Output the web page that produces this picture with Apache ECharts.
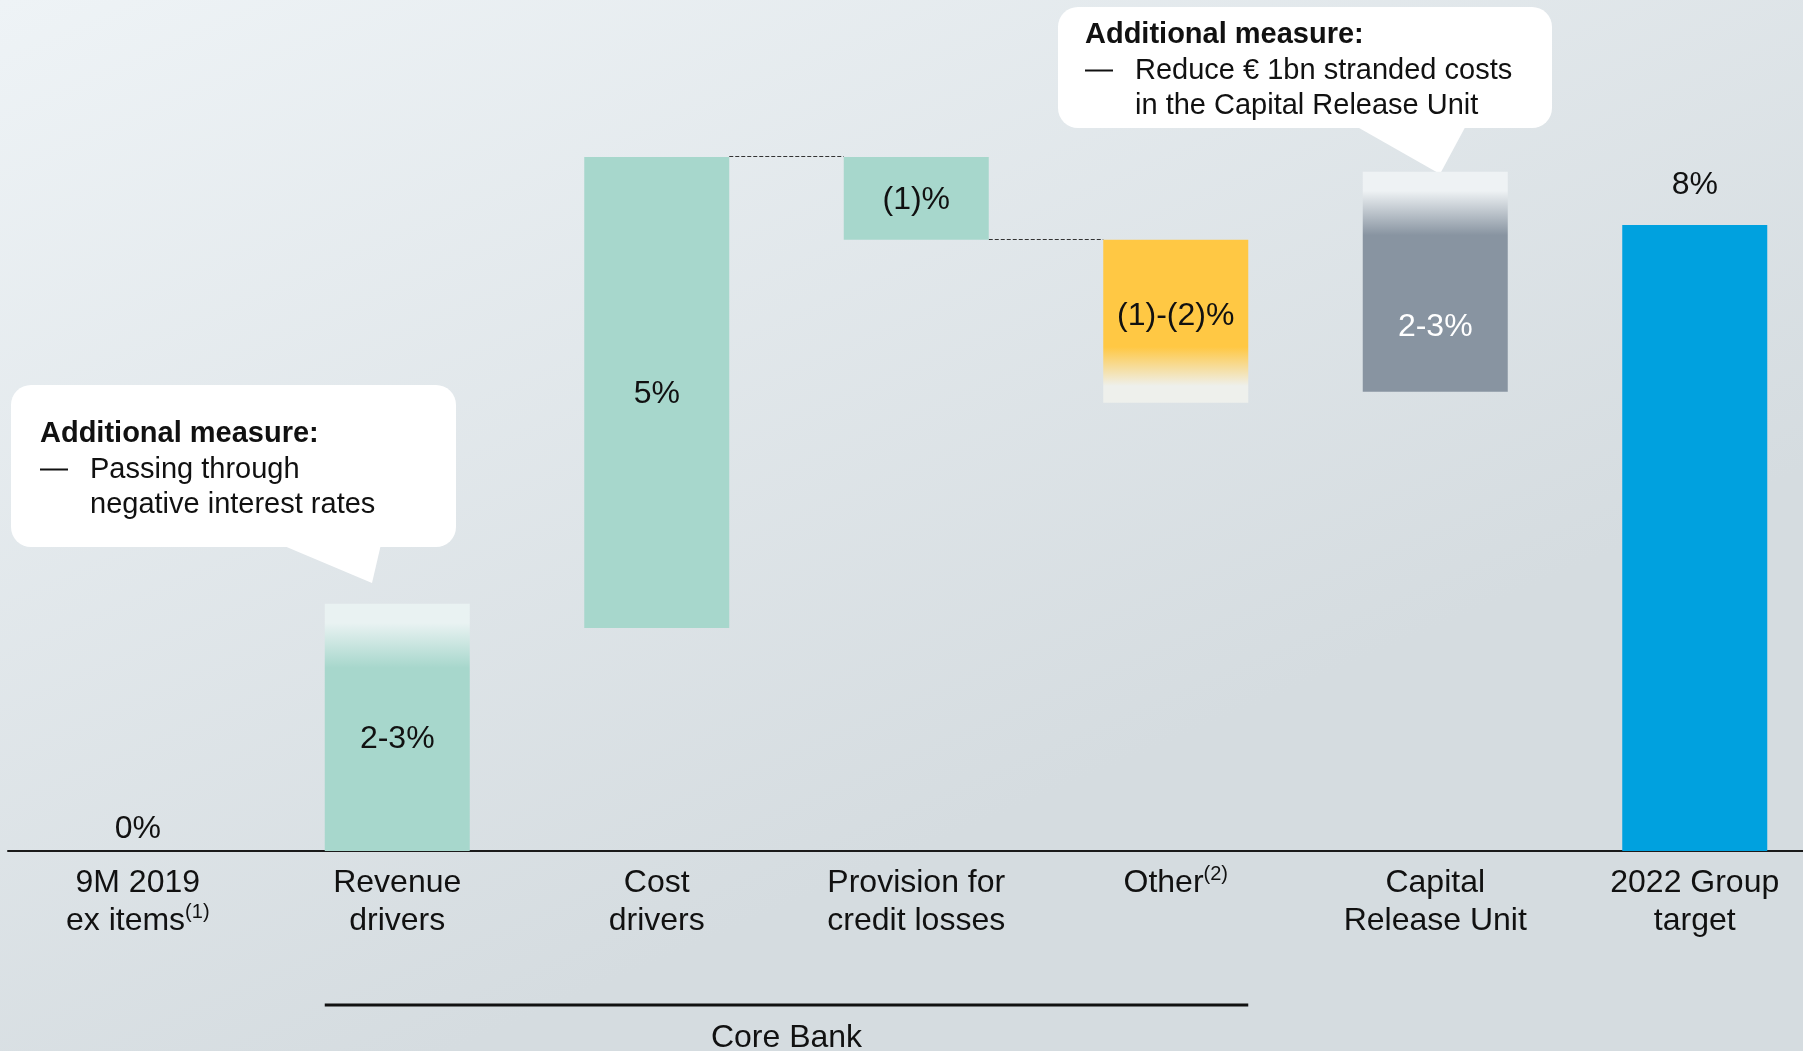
<!DOCTYPE html>
<html>
<head>
<meta charset="utf-8">
<script src="https://cdn.jsdelivr.net/npm/echarts@6/dist/echarts.min.js"></script>
<style>
  html, body { margin: 0; padding: 0; }
  #chart { width: 1803px; height: 1051px; }
</style>
</head>
<body>
<div id="chart"></div>
<script>
  // categories and waterfall levels (in % points)
  const categories = ['9M 2019\nex items(1)', 'Revenue\ndrivers', 'Cost\ndrivers', 'Provision for\ncredit losses', 'Other(2)', 'Capital\nRelease Unit', '2022 Group\ntarget'];
  const barBase = [0, 0, 2.85, 7.81, 5.73, 5.87, 0];
  const barTop = [0, 3.16, 8.87, 8.87, 7.81, 8.68, 8.0];
  const fadeTop = [0, 0.82, 0, 0, 0, 0.81, 0];      // faded part at the top of the bar
  const fadeBottom = [0, 0, 0, 0, 0.71, 0, 0];      // faded part at the bottom of the bar
  const valueLabels = ['0%', '2-3%', '5%', '(1)%', '(1)-(2)%', '2-3%', '8%'];
  const connectors = [{from: 0, at: 'top'}, {from: 2, at: 'top'}, {from: 3, at: 'base'}];

  const barColors = ['#a7d7cc', '#a7d7cc', '#a7d7cc', '#a7d7cc', '#ffc844', '#8894a1', '#00a1df'];
  const fadeColors = ['', '#e9f2f2', '', '', '#eef0ec', '#eef2f4', ''];
  const labelShift = [0, 12, 2, 2, -5, 45, 0];
  const FONT = '"Liberation Sans", Arial, sans-serif';
  const BAR_W = 145;

  function itemColor(i) {
    let c = barColors[i];
    let h = barTop[i] - barBase[i];
    if (fadeTop[i]) {
      let f = fadeTop[i] / h;
      return new echarts.graphic.LinearGradient(0, 0, 0, 1, [
        {offset: 0, color: fadeColors[i]},
        {offset: f * 0.3, color: fadeColors[i]},
        {offset: f, color: c},
        {offset: 1, color: c}
      ]);
    }
    if (fadeBottom[i]) {
      let f = 1 - fadeBottom[i] / h;
      return new echarts.graphic.LinearGradient(0, 0, 0, 1, [
        {offset: 0, color: c},
        {offset: f, color: c},
        {offset: f + (1 - f) * 0.7, color: fadeColors[i]},
        {offset: 1, color: fadeColors[i]}
      ]);
    }
    return c;
  }

  let mainData = categories.map(function (name, i) {
    let item = {
      value: barTop[i] - barBase[i],
      itemStyle: {color: itemColor(i)},
      label: {
        show: true,
        formatter: valueLabels[i],
        position: 'inside',
        offset: [0, labelShift[i]],
        color: i === 5 ? '#ffffff' : '#111111'
      }
    };
    if (i === 0) {
      item.label.position = 'top';
      item.label.distance = 6;
    }
    if (i === categories.length - 1) {
      item.label.position = 'top';
      item.label.distance = 24;
    }
    return item;
  });

  let myChart = echarts.init(document.getElementById('chart'));
  let option = {
    backgroundColor: new echarts.graphic.LinearGradient(0, 0, 0.25, 1, [
      {offset: 0, color: '#eef3f6'},
      {offset: 1, color: '#d5dce0'}
    ]),
    animation: false,
    textStyle: {fontFamily: FONT},
    grid: {left: 8, width: 1816.5, top: 68.5, bottom: 200, containLabel: false, outerBoundsMode: 'none'},
    xAxis: {
      type: 'category',
      data: categories,
      axisTick: {show: false},
      axisLine: {lineStyle: {color: '#1a1a1a', width: 2}},
      axisLabel: {
        interval: 0,
        margin: 13,
        fontSize: 32,
        lineHeight: 38,
        color: '#111111',
        fontFamily: FONT,
        formatter: function (v) {
          return v.replace(/\((\d)\)$/, '{sup|($1)}');
        },
        rich: {
          sup: {fontSize: 20, lineHeight: 20, verticalAlign: 'top', color: '#111111', fontFamily: FONT}
        }
      }
    },
    yAxis: {
      type: 'value',
      min: 0,
      max: 10,
      show: false,
      splitLine: {show: false}
    },
    series: [
      {
        type: 'bar',
        stack: 'w',
        barWidth: BAR_W,
        silent: true,
        itemStyle: {color: 'rgba(0,0,0,0)'},
        data: barBase
      },
      {
        type: 'bar',
        stack: 'w',
        barWidth: BAR_W,
        label: {fontSize: 32, fontFamily: FONT},
        data: mainData
      }
    ]
  };
  myChart.setOption(option);

  // connectors, bracket and callouts
  function px(i, v) {
    return myChart.convertToPixel({gridIndex: 0}, [i, v]);
  }
  let graphics = [];
  connectors.forEach(function (c) {
    let v = c.at === 'top' ? barTop[c.from] : barBase[c.from];
    let a = px(c.from, v), b = px(c.from + 1, v);
    graphics.push({
      type: 'line',
      shape: {x1: a[0] + BAR_W / 2, y1: Math.round(a[1]) - 0.5, x2: b[0] - BAR_W / 2, y2: Math.round(a[1]) - 0.5},
      style: {stroke: '#333333', lineWidth: 1, lineDash: c.from === 0 ? [2, 1] : [4, 2]}
    });
  });

  let left = px(1, 0)[0] - BAR_W / 2;
  let right = px(4, 0)[0] + BAR_W / 2;
  graphics.push({
    type: 'line',
    shape: {x1: left, y1: 1005, x2: right, y2: 1005},
    style: {stroke: '#111111', lineWidth: 3}
  });
  graphics.push({
    type: 'text',
    style: {text: 'Core Bank', x: (left + right) / 2, y: 1038, align: 'center', verticalAlign: 'middle', fontSize: 32, fontFamily: FONT, fill: '#111111'}
  });

  function callout(box, tail, lines) {
    graphics.push({
      type: 'polygon',
      shape: {points: tail},
      style: {fill: '#ffffff'}
    });
    graphics.push({
      type: 'rect',
      shape: {x: box[0], y: box[1], width: box[2], height: box[3], r: 20},
      style: {fill: '#ffffff'}
    });
    lines.forEach(function (l) {
      graphics.push({
        type: 'text',
        style: {text: l.text, x: l.x, y: l.y, verticalAlign: 'middle', fontSize: 29, fontWeight: l.bold ? 'bold' : 'normal', fontFamily: FONT, fill: '#111111'}
      });
      if (l.dash) {
        graphics.push({
          type: 'line',
          shape: {x1: l.dash, y1: l.y, x2: l.dash + 28, y2: l.y},
          style: {stroke: '#111111', lineWidth: 2}
        });
      }
    });
  }

  callout([11, 385, 445, 162], [[270, 540], [382, 540], [372, 583]], [
    {text: 'Additional measure:', x: 40, y: 434, bold: true},
    {text: 'Passing through', x: 90, y: 469.5, dash: 40},
    {text: 'negative interest rates', x: 90, y: 505}
  ]);
  callout([1058, 7, 494, 121], [[1345, 120], [1469, 120], [1440, 174]], [
    {text: 'Additional measure:', x: 1085, y: 35, bold: true},
    {text: 'Reduce € 1bn stranded costs', x: 1135, y: 70.5, dash: 1085},
    {text: 'in the Capital Release Unit', x: 1135, y: 106}
  ]);

  myChart.setOption({graphic: graphics});
</script>
</body>
</html>
